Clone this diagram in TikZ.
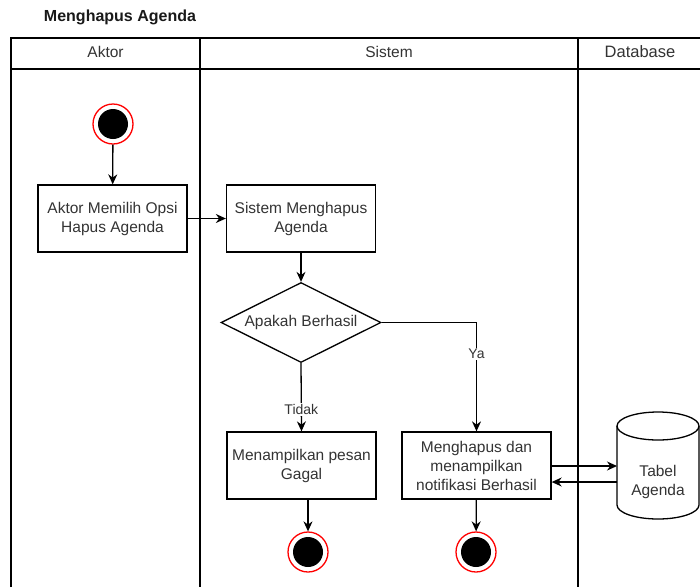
\documentclass[tikz,border=0pt]{standalone}
\usepackage{fontspec}
\setmainfont{Liberation Sans}
\usetikzlibrary{arrows.meta,shapes.geometric}
\begin{document}
\begin{tikzpicture}[x=1pt,y=-1pt,
  every node/.style={font=\fontsize{15.5}{19}\selectfont, text=black!80},
  lane/.style={line width=1.3pt, draw=black},
  actbox/.style={draw, line width=1.3pt, rectangle, minimum width=149pt, minimum height=67pt, align=center, inner sep=0pt},
  decision/.style={draw, line width=1.3pt, diamond, minimum width=160pt, minimum height=80pt, aspect=2, inner sep=0pt},
  flow/.style={line width=1.3pt, -{Stealth[length=10pt,width=9pt]}},
  edgelabel/.style={fill=white, font=\fontsize{14}{16}\selectfont, inner sep=1pt},
  startdot/.style={circle, fill=black, minimum size=30pt, inner sep=0pt},
  ring/.style={circle, draw=red, line width=1.3pt, minimum size=40pt, inner sep=0pt}
]
\useasboundingbox (0,0) rectangle (700,587);

% title
\node[font=\bfseries\fontsize{16}{19}\selectfont, text=black!90] (title) at (120,17) {Menghapus Agenda};

% swimlanes
\draw[lane] (11,587) -- (11,38) -- (701,38);
\draw[lane] (11,69) -- (701,69);
\draw[lane] (200,38) -- (200,587);
\draw[lane] (578,38) -- (578,587);
\node (hA) at (105.5,52) {Aktor};
\node (hS) at (389,52) {Sistem};
\node[font=\fontsize{16.5}{19}\selectfont] (hD) at (640,52) {Database};

% start
\node[ring] (start) at (113,124) {};
\node[startdot] at (start) {};

% activities
\node[actbox] (pilih) at (112.5,218.5) {Aktor Memilih Opsi\\Hapus Agenda};
\node[actbox] (hapus) at (301,218.5) {Sistem Menghapus\\Agenda};
\node[decision] (cek) at (301,322.5) {Apakah Berhasil};
\node[actbox] (gagal) at (301.5,465.5) {Menampilkan pesan\\Gagal};
\node[actbox] (sukses) at (476.5,465.5) {Menghapus dan\\menampilkan\\notifikasi Berhasil};

% database table (cylinder)
\draw[line width=1.3pt, fill=white] (617,426) -- (617,505)
  arc[start angle=180, end angle=0, x radius=41, y radius=14] -- (699,426)
  arc[start angle=0, end angle=-180, x radius=41, y radius=14] -- cycle;
\draw[line width=1.3pt] (617,426) arc[start angle=180, end angle=0, x radius=41, y radius=14];
\node[align=center] (tabel) at (658,482) {Tabel\\Agenda};

% ends
\node[ring] (end1) at (308,552) {};
\node[startdot] at (end1) {};
\node[ring] (end2) at (476,552) {};
\node[startdot] at (end2) {};

% flows
\draw[flow] (start) -- (pilih);
\draw[flow] (pilih) -- (hapus);
\draw[flow] (hapus) -- (cek);
\draw[flow] (cek.south) -- node[edgelabel, pos=0.68] {Tidak} (gagal.north);
\draw[flow] (cek.east) -| node[edgelabel, pos=0.645] {Ya} (sukses.north);
\draw[flow] (sukses.east |- 0,466) -- (617,466) coordinate (dbin);
\draw[flow] (617,482) coordinate (dbout) -- (sukses.east |- 0,482);
\draw[flow] (gagal.south -| end1) -- (end1);
\draw[flow] (sukses) -- (end2);
\end{tikzpicture}
\end{document}
